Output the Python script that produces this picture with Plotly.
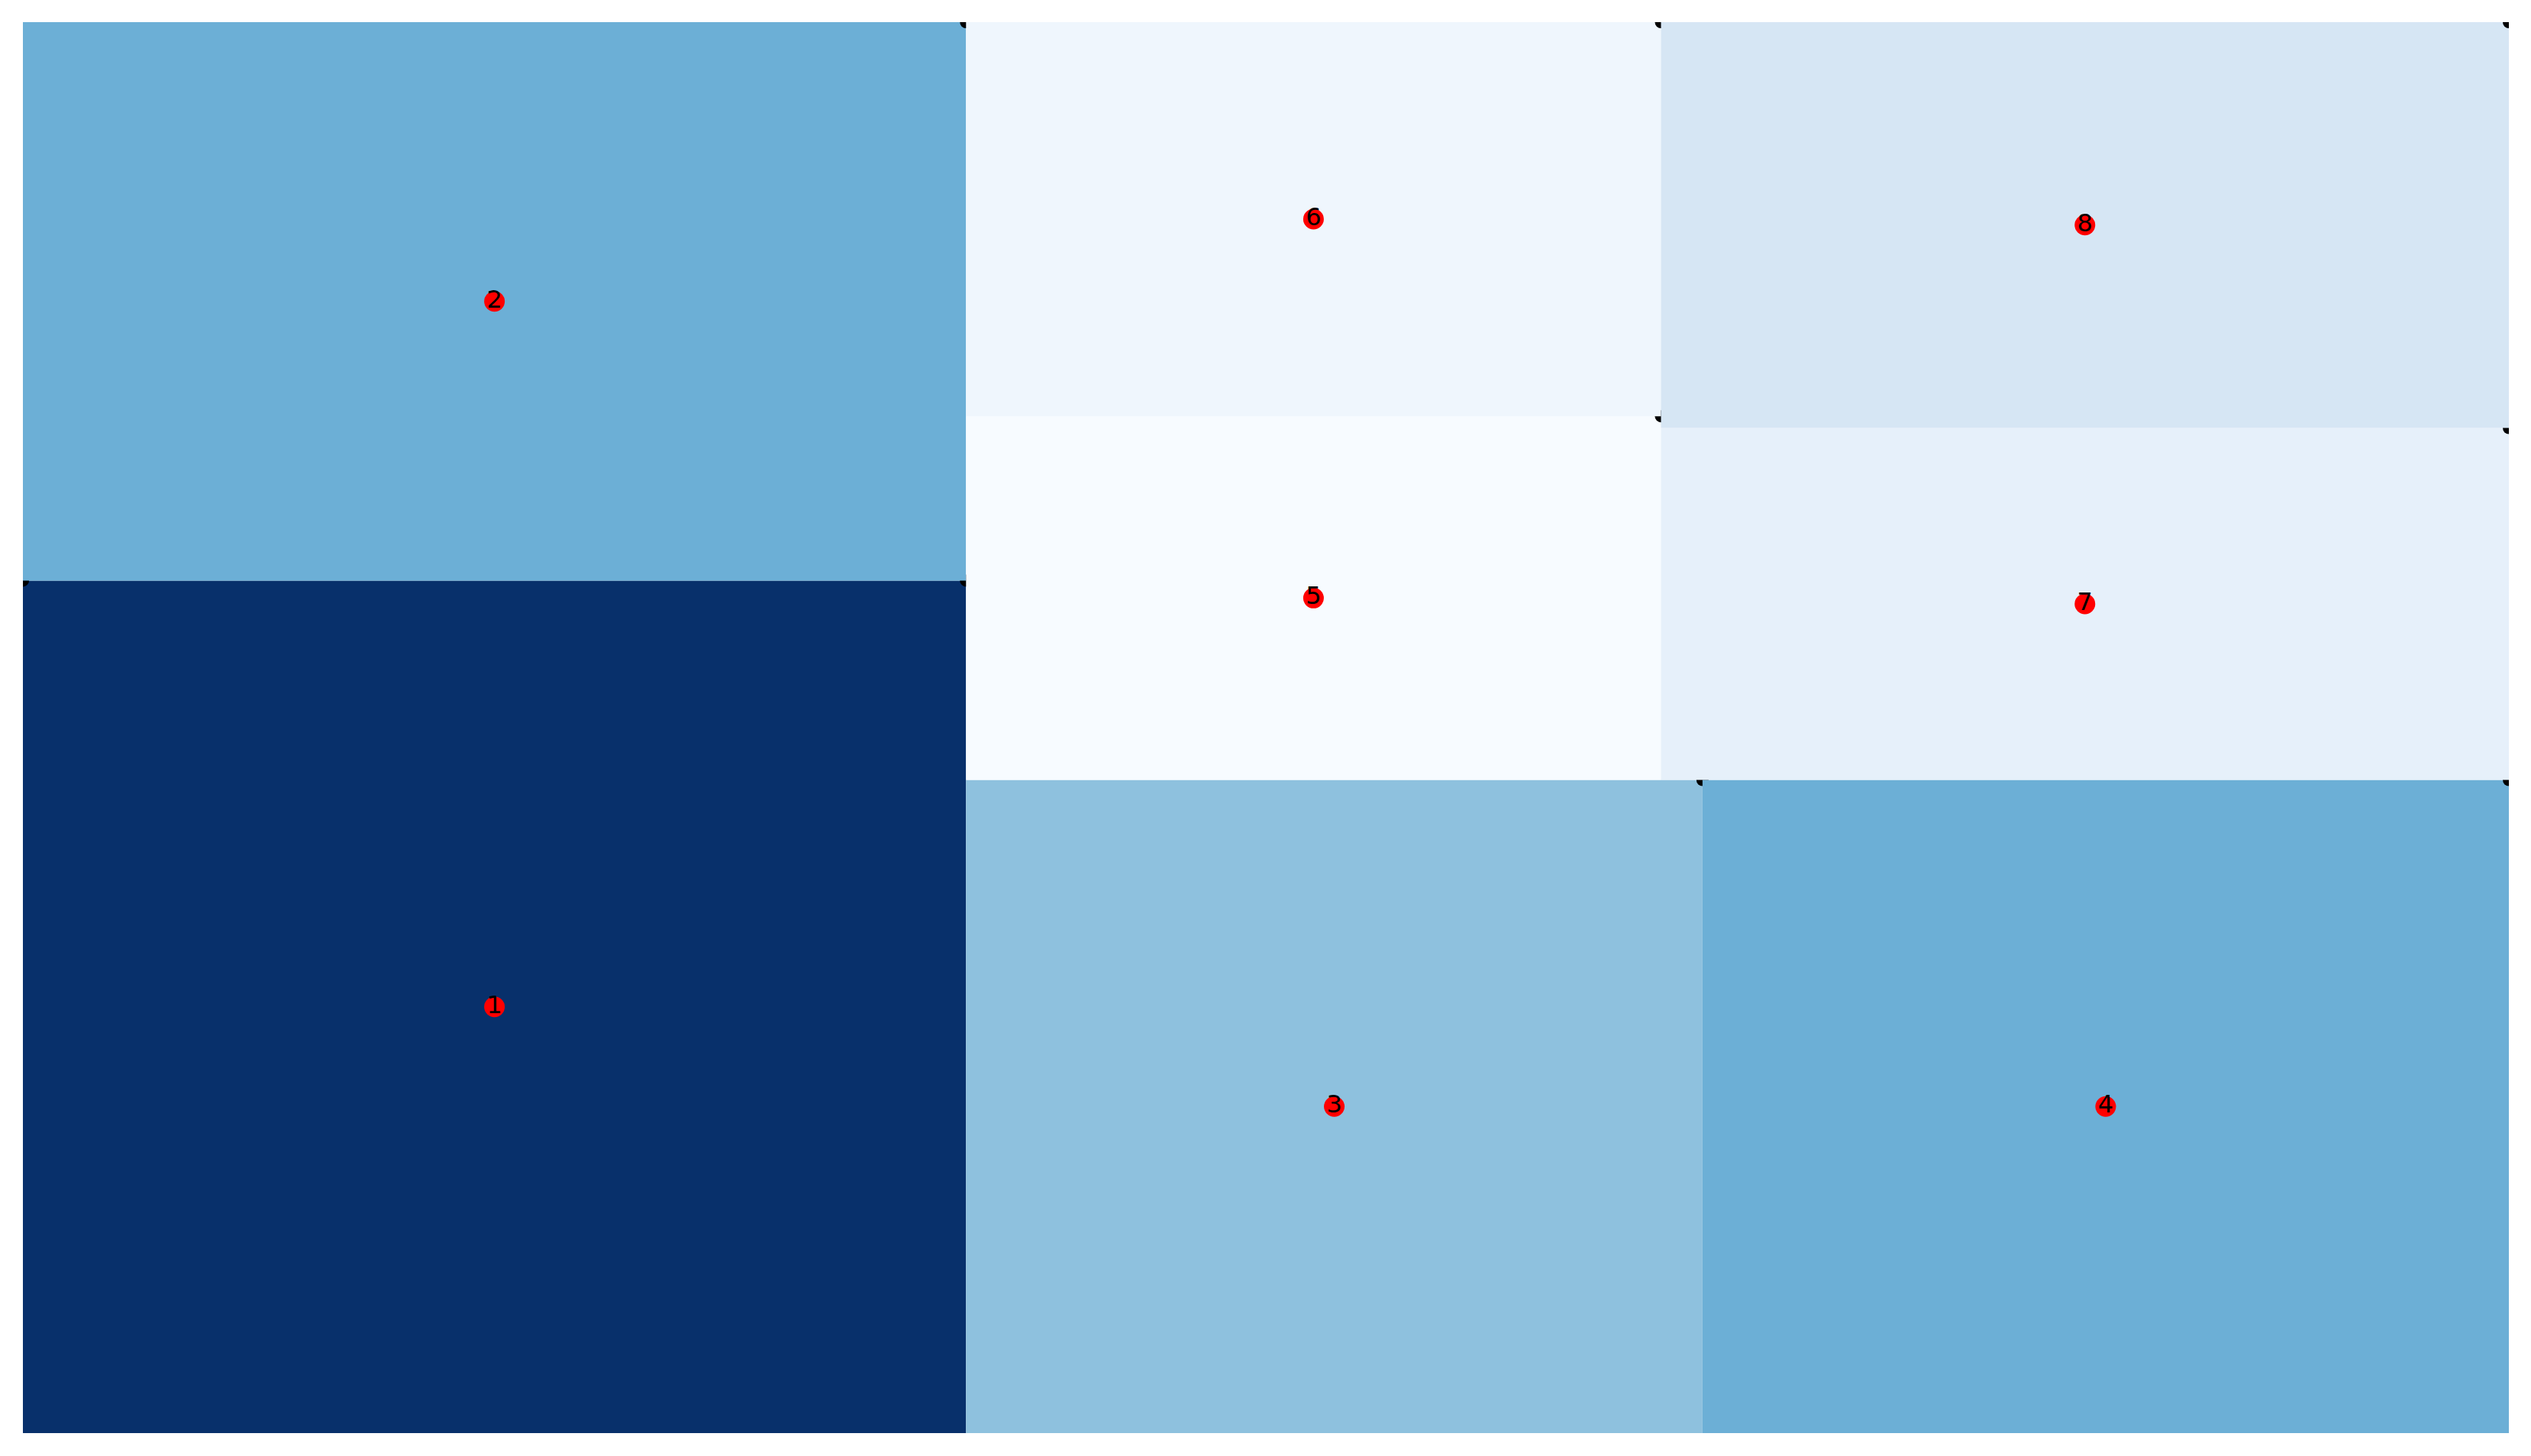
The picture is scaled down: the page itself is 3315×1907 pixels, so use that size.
import plotly.graph_objects as go
from plotly.colors import sample_colorscale, sequential

# ---- data ----
labels = ["1", "2", "3", "4", "5", "6", "7", "8"]
values = [22.9, 15.0, 13.7, 15.0, 7.2, 7.8, 8.5, 9.8]

# ---- squarify layout (same algorithm as the python 'squarify' package) ----
W, H = 100.0, 100.0


def normalize_sizes(sizes, dx, dy):
    tot = sum(sizes)
    return [s * dx * dy / tot for s in sizes]


def layoutrow(sizes, x, y, dx, dy):
    width = sum(sizes) / dy
    out = []
    for s in sizes:
        out.append((x, y, width, s / width))
        y += s / width
    return out


def layoutcol(sizes, x, y, dx, dy):
    height = sum(sizes) / dx
    out = []
    for s in sizes:
        out.append((x, y, s / height, height))
        x += s / height
    return out


def layout(sizes, x, y, dx, dy):
    return layoutrow(sizes, x, y, dx, dy) if dx >= dy else layoutcol(sizes, x, y, dx, dy)


def leftover(sizes, x, y, dx, dy):
    if dx >= dy:
        w = sum(sizes) / dy
        return x + w, y, dx - w, dy
    h = sum(sizes) / dx
    return x, y + h, dx, dy - h


def worst_ratio(sizes, x, y, dx, dy):
    return max(max(r[2] / r[3], r[3] / r[2]) for r in layout(sizes, x, y, dx, dy))


def squarify(sizes, x, y, dx, dy):
    if not sizes:
        return []
    if len(sizes) == 1:
        return layout(sizes, x, y, dx, dy)
    i = 1
    while i < len(sizes) and worst_ratio(sizes[:i], x, y, dx, dy) >= worst_ratio(sizes[:i + 1], x, y, dx, dy):
        i += 1
    cur, rem = sizes[:i], sizes[i:]
    lx, ly, ldx, ldy = leftover(cur, x, y, dx, dy)
    return layout(cur, x, y, dx, dy) + squarify(rem, lx, ly, ldx, ldy)


rects = squarify(normalize_sizes(values, W, H), 0.0, 0.0, W, H)

vmin, vmax = min(values), max(values)
colors = sample_colorscale(sequential.Blues, [(v - vmin) / (vmax - vmin) for v in values])

fig = go.Figure()

for k, (x, y, dx, dy) in enumerate(rects):
    fig.add_trace(go.Scatter(
        x=[x, x + dx, x + dx, x, x],
        y=[y, y, y + dy, y + dy, y],
        mode="none", fill="toself", fillcolor=colors[k],
        hoverinfo="skip", showlegend=False,
    ))
    # corner marks (top-right corner of each tile; first tile also top-left)
    cx = [x + dx]
    cy = [y + dy]
    if k == 0:
        cx.append(x)
        cy.append(y + dy)
    fig.add_trace(go.Scatter(
        x=cx, y=cy, mode="markers",
        marker=dict(color="black", size=16, line=dict(width=0)),
        hoverinfo="skip", showlegend=False,
    ))

# centre dots with labels
fig.add_trace(go.Scatter(
    x=[r[0] + r[2] / 2 for r in rects],
    y=[r[1] + r[3] / 2 for r in rects],
    mode="markers+text",
    marker=dict(color="red", size=27, line=dict(width=0)),
    text=labels, textposition="middle center",
    textfont=dict(family="DejaVu Sans", size=32, color="black"),
    hoverinfo="skip", showlegend=False,
))

fig.update_layout(
    width=3315, height=1907,
    margin=dict(l=30, r=29, t=29, b=30),
    paper_bgcolor="white", plot_bgcolor="white",
    xaxis=dict(range=[0, W], visible=False, showgrid=False, zeroline=False),
    yaxis=dict(range=[0, H], visible=False, showgrid=False, zeroline=False),
    showlegend=False,
)

fig.write_html("out.html")
